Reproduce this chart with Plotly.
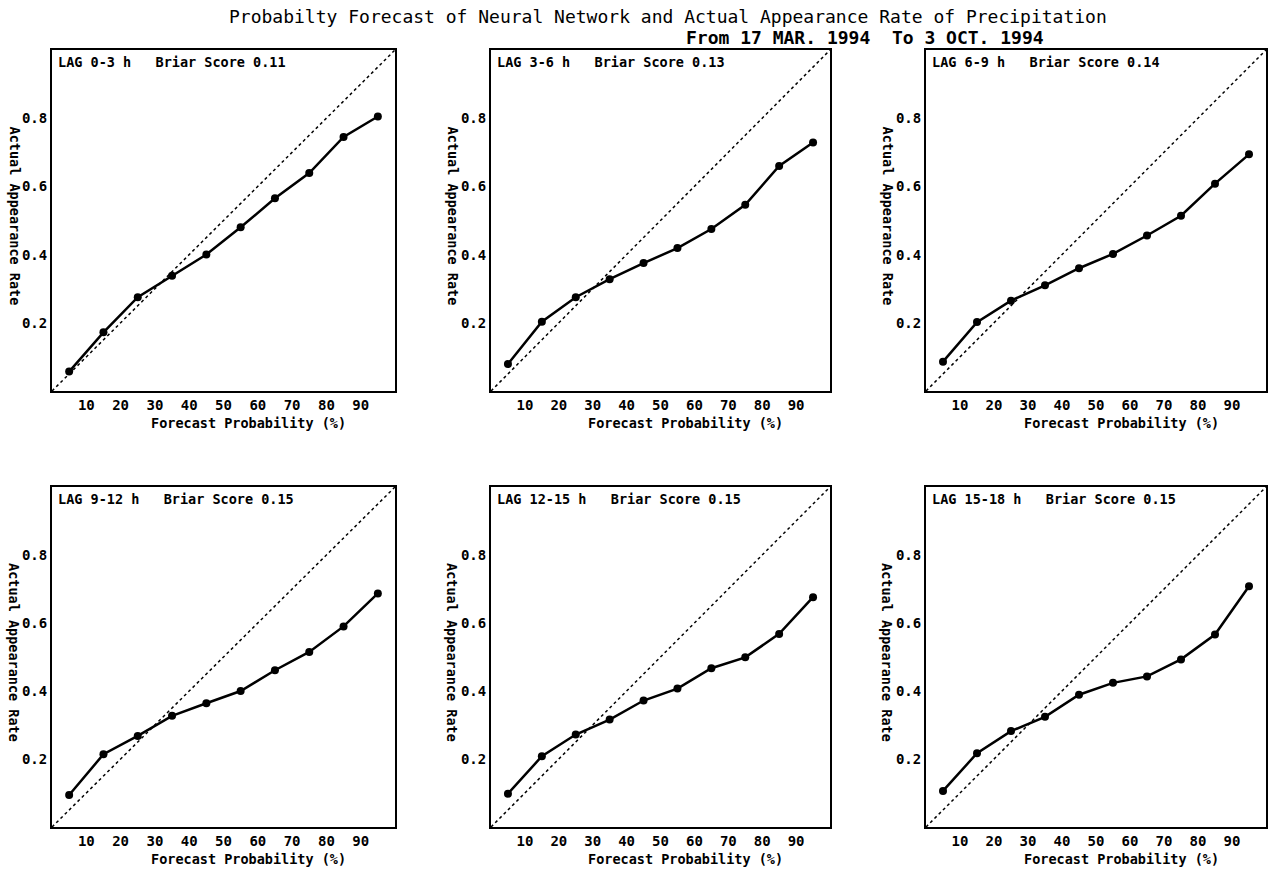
import plotly.graph_objects as go

forecast_pct = [5, 15, 25, 35, 45, 55, 65, 75, 85, 95]
lag_labels = ["LAG 0-3 h", "LAG 3-6 h", "LAG 6-9 h", "LAG 9-12 h", "LAG 12-15 h", "LAG 15-18 h"]
briar_scores = ["0.11", "0.13", "0.14", "0.15", "0.15", "0.15"]

rate_lag_0_3 = [0.057, 0.172, 0.275, 0.338, 0.400, 0.480, 0.565, 0.639, 0.745, 0.805]
rate_lag_3_6 = [0.079, 0.203, 0.275, 0.328, 0.375, 0.419, 0.475, 0.546, 0.660, 0.729]
rate_lag_6_9 = [0.086, 0.202, 0.265, 0.310, 0.360, 0.402, 0.456, 0.514, 0.608, 0.694]
rate_lag_9_12 = [0.094, 0.214, 0.268, 0.327, 0.364, 0.400, 0.461, 0.515, 0.590, 0.687]
rate_lag_12_15 = [0.098, 0.208, 0.272, 0.316, 0.372, 0.407, 0.467, 0.499, 0.568, 0.676]
rate_lag_15_18 = [0.106, 0.217, 0.282, 0.324, 0.389, 0.424, 0.443, 0.493, 0.566, 0.708]

diag_x = [0, 100]
diag_y = [0, 1]
x_ticks = [10, 20, 30, 40, 50, 60, 70, 80, 90]
y_ticks = [0.2, 0.4, 0.6, 0.8]

series = [rate_lag_0_3, rate_lag_3_6, rate_lag_6_9, rate_lag_9_12, rate_lag_12_15, rate_lag_15_18]

W, H = 1268, 870
col_px = [(52, 395), (491, 830), (926, 1266)]
row_px = [(50, 391), (487, 827)]
ytitle_x = [14, 452, 887]
xtitle_off = 25

FONT = "DejaVu Sans Mono"
fig = go.Figure()
annotations = []

for i, ys in enumerate(series):
    r, c = divmod(i, 3)
    n = i + 1
    xa = "x" if n == 1 else f"x{n}"
    ya = "y" if n == 1 else f"y{n}"
    fig.add_trace(go.Scatter(x=diag_x, y=diag_y, mode="lines", xaxis=xa, yaxis=ya,
                             line=dict(color="black", width=1.5, dash="dot"),
                             showlegend=False, hoverinfo="skip"))
    fig.add_trace(go.Scatter(x=forecast_pct, y=ys, mode="lines+markers", xaxis=xa, yaxis=ya,
                             line=dict(color="black", width=2.5),
                             marker=dict(color="black", size=8),
                             showlegend=False))
    x0, x1 = col_px[c]
    y0, y1 = row_px[r]
    xdom = [x0 / W, x1 / W]
    ydom = [1 - y1 / H, 1 - y0 / H]
    axis_common = dict(showline=True, linecolor="black", linewidth=2, mirror=True,
                       showgrid=False, zeroline=False, ticks="",
                       tickfont=dict(family=FONT, size=14, color="black", weight="bold"))
    fig.update_layout(**{
        ("xaxis" if n == 1 else f"xaxis{n}"): dict(domain=xdom, range=[0, 100], tickvals=x_ticks,
                                                  anchor=ya, **axis_common),
        ("yaxis" if n == 1 else f"yaxis{n}"): dict(domain=ydom, range=[0, 1], tickvals=y_ticks,
                                                  ticktext=[f"{v:.1f}" for v in y_ticks],
                                                  anchor=xa, **axis_common),
    })
    annotations.append(dict(text=f"{lag_labels[i]}   Briar Score {briar_scores[i]}",
                            xref=f"{xa} domain", yref=f"{ya} domain", x=0.012, y=0.995,
                            xanchor="left", yanchor="top", showarrow=False,
                            font=dict(family=FONT, size=13.5, color="black", weight="bold")))
    annotations.append(dict(text="Forecast Probability (%)", xref="paper", yref="paper",
                            x=((x0 + x1) / 2 + xtitle_off) / W, y=1 - (y1 + 32) / H,
                            xanchor="center", yanchor="middle", showarrow=False,
                            font=dict(family=FONT, size=13.5, color="black", weight="bold")))
    annotations.append(dict(text="Actual Appearance Rate", xref="paper", yref="paper",
                            x=ytitle_x[c] / W, y=1 - ((y0 + y1) / 2 - 5) / H,
                            xanchor="center", yanchor="middle", showarrow=False, textangle=90,
                            font=dict(family=FONT, size=13.5, color="black", weight="bold")))

annotations.append(dict(text="Probabilty Forecast of Neural Network and Actual Appearance Rate of Precipitation",
                        xref="paper", yref="paper", x=668 / W, y=1 - 16 / H,
                        xanchor="center", yanchor="middle", showarrow=False,
                        font=dict(family=FONT, size=18, color="black")))
annotations.append(dict(text="From 17 MAR. 1994  To 3 OCT. 1994",
                        xref="paper", yref="paper", x=865 / W, y=1 - 37 / H,
                        xanchor="center", yanchor="middle", showarrow=False,
                        font=dict(family=FONT, size=18, color="black", weight="bold")))

fig.update_layout(width=W, height=H, margin=dict(l=0, r=0, t=0, b=0),
                  paper_bgcolor="white", plot_bgcolor="white",
                  annotations=annotations, showlegend=False)

fig.write_html("out.html", config={"displayModeBar": False},
               post_script="document.body.style.margin='0';document.body.style.overflow='hidden';")
